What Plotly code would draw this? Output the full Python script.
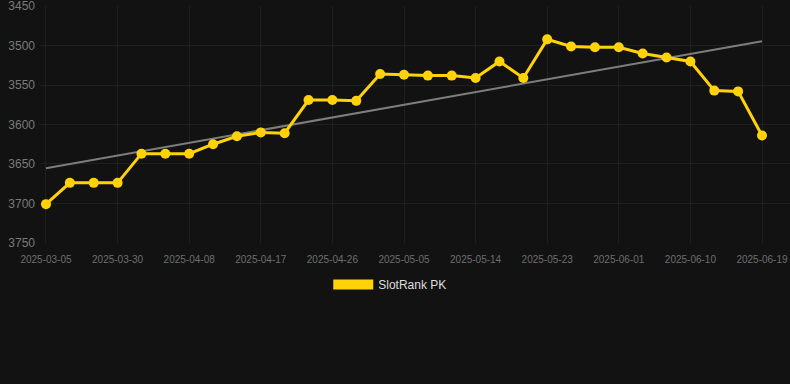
import numpy as np
import plotly.graph_objects as go

dates = [
    "2025-03-05", "2025-03-24", "2025-03-27", "2025-03-30", "2025-04-02", "2025-04-05",
    "2025-04-08", "2025-04-11", "2025-04-14", "2025-04-17", "2025-04-20", "2025-04-23",
    "2025-04-26", "2025-04-29", "2025-05-02", "2025-05-05", "2025-05-08", "2025-05-11",
    "2025-05-14", "2025-05-17", "2025-05-20", "2025-05-23", "2025-05-26", "2025-05-29",
    "2025-06-01", "2025-06-04", "2025-06-07", "2025-06-10", "2025-06-13", "2025-06-16",
    "2025-06-19",
]
rank = [
    3701, 3674, 3674, 3674, 3637, 3637, 3637, 3625, 3615, 3610, 3611,
    3569, 3569, 3570, 3536, 3537, 3538, 3538, 3541, 3520, 3541,
    3492, 3501, 3502, 3502, 3510, 3515, 3520, 3557, 3558, 3614,
]
series_name = "SlotRank PK"
y_ticks = [3450, 3500, 3550, 3600, 3650, 3700, 3750]

idx = np.arange(len(dates))
slope, intercept = np.polyfit(idx, rank, 1)
trend = [intercept, intercept + slope * (len(dates) - 1)]

gold = "#FFD20A"
fig = go.Figure()
fig.add_trace(go.Scatter(
    x=[dates[0], dates[-1]], y=trend, mode="lines",
    line=dict(color="#7d7d7d", width=2), showlegend=False, hoverinfo="skip",
))
fig.add_trace(go.Scatter(
    x=dates, y=rank, mode="lines+markers",
    line=dict(color=gold, width=3),
    marker=dict(color=gold, size=10),
    showlegend=False, name=series_name,
))
fig.add_trace(go.Scatter(
    x=[None], y=[None], mode="lines",
    line=dict(color=gold, width=12), name=series_name, showlegend=True,
))

n = len(dates)
fig.update_layout(
    width=790, height=384,
    margin=dict(l=40, r=0, t=6, b=141),
    paper_bgcolor="#121212", plot_bgcolor="#121212",
    font=dict(family="Liberation Sans, Arial, sans-serif", color="#888888"),
    showlegend=True,
    legend=dict(
        orientation="h", x=0.467, xanchor="center", y=-0.114, yanchor="top",
        font=dict(size=12, color="#dddddd"), itemwidth=40,
        bgcolor="rgba(0,0,0,0)",
    ),
    xaxis=dict(
        type="category", categoryorder="array", categoryarray=dates,
        range=[-0.251, n - 1 + 28 / 23.867],
        tickvals=dates[::3], ticktext=dates[::3],
        showgrid=True, gridcolor="#1f1f1f", gridwidth=1,
        zeroline=False, showline=False, ticks="",
        tickfont=dict(size=10, color="#6e6e6e"),
        ticklabelstandoff=9,
    ),
    yaxis=dict(
        range=[3750.3, 3449.7], tickvals=y_ticks,
        showgrid=True, gridcolor="#1f1f1f", gridwidth=1,
        zeroline=False, showline=False, ticks="",
        tickfont=dict(size=12, color="#7a7a7a"),
        ticklabelstandoff=4, ticklabeloverflow="allow",
    ),
)
fig.write_html("out.html")
